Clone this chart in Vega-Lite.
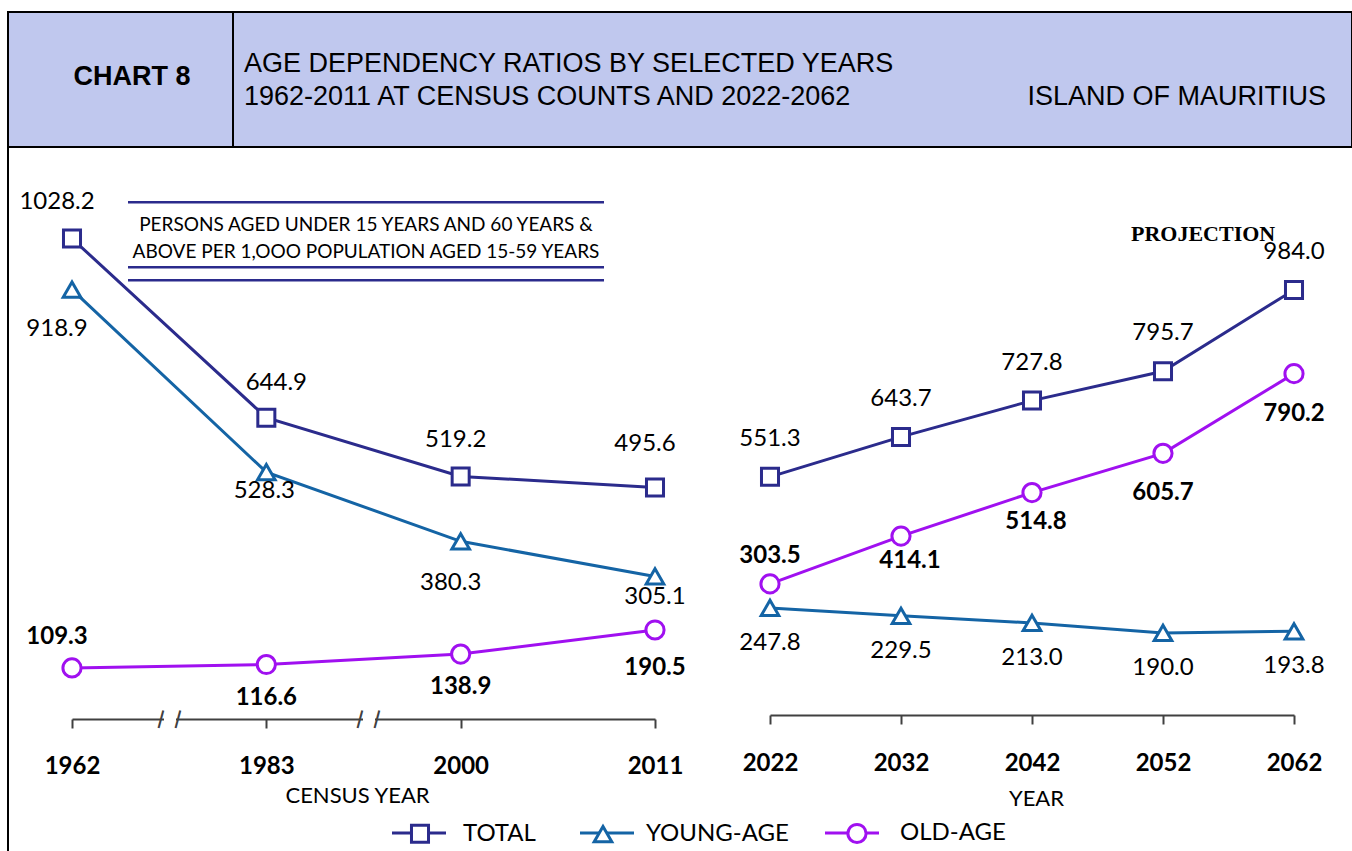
{
  "$schema": "https://vega.github.io/schema/vega-lite/v6.json",
  "width": 1352,
  "height": 851,
  "autosize": "none",
  "padding": 0,
  "background": "white",
  "config": {"view": {"stroke": null}},
  "datasets": {
    "census": [
      {"year": "1962", "series": "TOTAL", "value": 1028.2},
      {"year": "1983", "series": "TOTAL", "value": 644.9},
      {"year": "2000", "series": "TOTAL", "value": 519.2},
      {"year": "2011", "series": "TOTAL", "value": 495.6},
      {"year": "1962", "series": "YOUNG-AGE", "value": 918.9},
      {"year": "1983", "series": "YOUNG-AGE", "value": 528.3},
      {"year": "2000", "series": "YOUNG-AGE", "value": 380.3},
      {"year": "2011", "series": "YOUNG-AGE", "value": 305.1},
      {"year": "1962", "series": "OLD-AGE", "value": 109.3},
      {"year": "1983", "series": "OLD-AGE", "value": 116.6},
      {"year": "2000", "series": "OLD-AGE", "value": 138.9},
      {"year": "2011", "series": "OLD-AGE", "value": 190.5}
    ],
    "proj": [
      {"year": "2022", "series": "TOTAL", "value": 551.3},
      {"year": "2032", "series": "TOTAL", "value": 643.7},
      {"year": "2042", "series": "TOTAL", "value": 727.8},
      {"year": "2052", "series": "TOTAL", "value": 795.7},
      {"year": "2062", "series": "TOTAL", "value": 984.0},
      {"year": "2022", "series": "YOUNG-AGE", "value": 247.8},
      {"year": "2032", "series": "YOUNG-AGE", "value": 229.5},
      {"year": "2042", "series": "YOUNG-AGE", "value": 213.0},
      {"year": "2052", "series": "YOUNG-AGE", "value": 190.0},
      {"year": "2062", "series": "YOUNG-AGE", "value": 193.8},
      {"year": "2022", "series": "OLD-AGE", "value": 303.5},
      {"year": "2032", "series": "OLD-AGE", "value": 414.1},
      {"year": "2042", "series": "OLD-AGE", "value": 514.8},
      {"year": "2052", "series": "OLD-AGE", "value": 605.7},
      {"year": "2062", "series": "OLD-AGE", "value": 790.2}
    ]
  },
  "resolve": {"scale": {"x": "independent", "y": "independent"}, "axis": {"x": "independent", "y": "independent"}},
  "layer": [
    {
      "data": {"values": [{}]},
      "layer": [
        {"mark": {"type": "rect", "x": 8, "y": 12, "x2": 1352, "y2": 147, "fill": "#C0C8EE", "stroke": "black", "strokeWidth": 2}},
        {"mark": {"type": "rect", "x": 232, "y": 12, "x2": 234, "y2": 147, "fill": "black"}},
        {"mark": {"type": "rect", "x": 7, "y": 147, "x2": 9, "y2": 851, "fill": "black"}},
        {"mark": {"type": "text", "x": 132, "y": 85, "text": "CHART 8", "align": "center", "baseline": "alphabetic", "font": "Liberation Sans", "fontSize": 27, "fontWeight": "bold", "fill": "black"}},
        {"mark": {"type": "text", "x": 244, "y": 72, "text": "AGE DEPENDENCY RATIOS BY SELECTED YEARS", "align": "left", "baseline": "alphabetic", "font": "Liberation Sans", "fontSize": 27, "fill": "black"}},
        {"mark": {"type": "text", "x": 244, "y": 105, "text": "1962-2011 AT CENSUS COUNTS AND 2022-2062", "align": "left", "baseline": "alphabetic", "font": "Liberation Sans", "fontSize": 27, "fill": "black"}},
        {"mark": {"type": "text", "x": 1326, "y": 105, "text": "ISLAND OF MAURITIUS", "align": "right", "baseline": "alphabetic", "font": "Liberation Sans", "fontSize": 27, "fill": "black"}},
        {"mark": {"type": "rect", "x": 128, "y": 201, "x2": 604, "y2": 203.5, "fill": "#2B2B8C"}},
        {"mark": {"type": "rect", "x": 128, "y": 266, "x2": 604, "y2": 268.5, "fill": "#2B2B8C"}},
        {"mark": {"type": "rect", "x": 128, "y": 279, "x2": 604, "y2": 281.5, "fill": "#2B2B8C"}},
        {"mark": {"type": "text", "x": 366, "y": 231, "text": "PERSONS AGED UNDER 15 YEARS AND 60 YEARS &", "align": "center", "baseline": "alphabetic", "font": "Lato", "fontSize": 19, "fill": "black"}},
        {"mark": {"type": "text", "x": 366, "y": 258, "text": "ABOVE PER 1,OOO POPULATION AGED 15-59 YEARS", "align": "center", "baseline": "alphabetic", "font": "Lato", "fontSize": 19, "fill": "black"}},
        {"mark": {"type": "text", "x": 1131, "y": 241, "text": "PROJECTION", "align": "left", "baseline": "alphabetic", "font": "Liberation Serif", "fontSize": 22, "fontWeight": "bold", "fill": "black"}},
        {"mark": {"type": "rect", "x": 164, "y": 716, "x2": 176, "y2": 722, "fill": "white"}},
        {"mark": {"type": "rect", "x": 363, "y": 716, "x2": 375, "y2": 722, "fill": "white"}},
        {"mark": {"type": "text", "x": 161, "y": 719, "text": "|", "angle": 15, "align": "center", "baseline": "middle", "font": "DejaVu Sans", "fontSize": 18, "fontWeight": "bold", "fill": "#404040"}},
        {"mark": {"type": "text", "x": 178, "y": 719, "text": "|", "angle": 15, "align": "center", "baseline": "middle", "font": "DejaVu Sans", "fontSize": 18, "fontWeight": "bold", "fill": "#404040"}},
        {"mark": {"type": "text", "x": 360, "y": 719, "text": "|", "angle": 15, "align": "center", "baseline": "middle", "font": "DejaVu Sans", "fontSize": 18, "fontWeight": "bold", "fill": "#404040"}},
        {"mark": {"type": "text", "x": 377, "y": 719, "text": "|", "angle": 15, "align": "center", "baseline": "middle", "font": "DejaVu Sans", "fontSize": 18, "fontWeight": "bold", "fill": "#404040"}},
        {"mark": {"type": "rect", "x": 392, "y": 831.5, "x2": 446, "y2": 834.5, "fill": "#2B2B8C"}},
        {"mark": {"type": "rect", "x": 580, "y": 831.5, "x2": 634, "y2": 834.5, "fill": "#1464A5"}},
        {"mark": {"type": "rect", "x": 825, "y": 831.5, "x2": 879, "y2": 834.5, "fill": "#A010F0"}}
      ]
    },
    {
      "data": {"name": "census"},
      "encoding": {
        "x": {"field": "year", "type": "ordinal", "scale": {"type": "point", "range": [72, 655], "padding": 0},
          "axis": {"title": "CENSUS YEAR", "orient": "bottom", "offset": -132, "grid": false, "domainColor": "#404040", "domainWidth": 2, "tickColor": "#404040", "tickWidth": 2, "tickSize": 9, "labelFont": "Lato", "labelFontSize": 24, "labelFontWeight": "bold", "labelColor": "black", "labelPadding": 26, "labelAngle": 0, "titleFont": "Lato", "titleFontSize": 22, "titleFontWeight": "normal", "titleColor": "black", "titleX": 357, "titleY": 83, "titleBaseline": "alphabetic", "titleAlign": "center"}},
        "y": {"field": "value", "type": "quantitative", "scale": {"domain": [0, 1100], "range": [719, 205]}, "axis": null}
      },
      "layer": [
        {"mark": {"type": "line", "strokeWidth": 3},
          "encoding": {"color": {"field": "series", "type": "nominal", "scale": {"domain": ["TOTAL", "YOUNG-AGE", "OLD-AGE"], "range": ["#2B2B8C", "#1464A5", "#A010F0"]},
            "legend": {"orient": "none", "legendX": 408, "legendY": 821, "direction": "horizontal", "title": null, "padding": 0, "symbolStrokeWidth": 3, "symbolFillColor": "white", "labelFont": "Lato", "labelFontSize": 24, "labelColor": "black", "labelOffset": 31, "columnPadding": 52, "labelLimit": 400}}}},
        {"mark": {"type": "point", "filled": false, "fill": "white", "strokeWidth": 3, "opacity": 1},
          "encoding": {"color": {"field": "series", "type": "nominal"},
            "shape": {"field": "series", "type": "nominal", "scale": {"domain": ["TOTAL", "YOUNG-AGE", "OLD-AGE"], "range": ["square", "triangle-up", "circle"]}, "legend": null},
            "size": {"field": "series", "type": "nominal", "scale": {"domain": ["TOTAL", "YOUNG-AGE", "OLD-AGE"], "range": [290, 330, 300]}, "legend": null}}},
        {"transform": [{"filter": "datum.series === 'TOTAL' && datum.year === '1962'"}], "mark": {"type": "text", "dx": -15, "dy": -37, "font": "Lato", "fontSize": 24, "fill": "black", "baseline": "middle"}, "encoding": {"text": {"field": "value", "type": "quantitative", "format": ".1f"}}},
        {"transform": [{"filter": "datum.series === 'TOTAL' && datum.year === '1983'"}], "mark": {"type": "text", "dx": 10, "dy": -35, "font": "Lato", "fontSize": 24, "fill": "black", "baseline": "middle"}, "encoding": {"text": {"field": "value", "type": "quantitative", "format": ".1f"}}},
        {"transform": [{"filter": "datum.series === 'TOTAL' && datum.year === '2000'"}], "mark": {"type": "text", "dx": -5, "dy": -36, "font": "Lato", "fontSize": 24, "fill": "black", "baseline": "middle"}, "encoding": {"text": {"field": "value", "type": "quantitative", "format": ".1f"}}},
        {"transform": [{"filter": "datum.series === 'TOTAL' && datum.year === '2011'"}], "mark": {"type": "text", "dx": -10, "dy": -43, "font": "Lato", "fontSize": 24, "fill": "black", "baseline": "middle"}, "encoding": {"text": {"field": "value", "type": "quantitative", "format": ".1f"}}},
        {"transform": [{"filter": "datum.series === 'YOUNG-AGE' && datum.year === '1962'"}], "mark": {"type": "text", "dx": -15, "dy": 39, "font": "Lato", "fontSize": 24, "fill": "black", "baseline": "middle"}, "encoding": {"text": {"field": "value", "type": "quantitative", "format": ".1f"}}},
        {"transform": [{"filter": "datum.series === 'YOUNG-AGE' && datum.year === '1983'"}], "mark": {"type": "text", "dx": -2, "dy": 19, "font": "Lato", "fontSize": 24, "fill": "black", "baseline": "middle"}, "encoding": {"text": {"field": "value", "type": "quantitative", "format": ".1f"}}},
        {"transform": [{"filter": "datum.series === 'YOUNG-AGE' && datum.year === '2011'"}], "mark": {"type": "text", "dy": 21, "font": "Lato", "fontSize": 24, "fill": "black", "baseline": "middle"}, "encoding": {"text": {"field": "value", "type": "quantitative", "format": ".1f"}}},
        {"transform": [{"filter": "datum.series === 'YOUNG-AGE' && datum.year === '2000'"}], "mark": {"type": "text", "dx": -10, "dy": 42, "font": "Lato", "fontSize": 24, "fill": "black", "baseline": "middle"}, "encoding": {"text": {"field": "value", "type": "quantitative", "format": ".1f"}}},
        {"transform": [{"filter": "datum.series === 'OLD-AGE' && datum.year === '1962'"}], "mark": {"type": "text", "dx": -15, "dy": -31, "font": "Lato", "fontSize": 24, "fontWeight": "bold", "fill": "black", "baseline": "middle"}, "encoding": {"text": {"field": "value", "type": "quantitative", "format": ".1f"}}},
        {"transform": [{"filter": "datum.series === 'OLD-AGE' && (datum.year === '1983' || datum.year === '2000')"}], "mark": {"type": "text", "dy": 33, "font": "Lato", "fontSize": 24, "fontWeight": "bold", "fill": "black", "baseline": "middle"}, "encoding": {"text": {"field": "value", "type": "quantitative", "format": ".1f"}}},
        {"transform": [{"filter": "datum.series === 'OLD-AGE' && datum.year === '2011'"}], "mark": {"type": "text", "dy": 38, "font": "Lato", "fontSize": 24, "fontWeight": "bold", "fill": "black", "baseline": "middle"}, "encoding": {"text": {"field": "value", "type": "quantitative", "format": ".1f"}}}
      ]
    },
    {
      "data": {"name": "proj"},
      "encoding": {
        "x": {"field": "year", "type": "ordinal", "scale": {"type": "point", "range": [770, 1294], "padding": 0},
          "axis": {"title": "YEAR", "orient": "bottom", "offset": -136, "grid": false, "domainColor": "#404040", "domainWidth": 2, "tickColor": "#404040", "tickWidth": 2, "tickSize": 9, "labelFont": "Lato", "labelFontSize": 24, "labelFontWeight": "bold", "labelColor": "black", "labelPadding": 27, "labelAngle": 0, "titleFont": "Lato", "titleFontSize": 22, "titleFontWeight": "normal", "titleColor": "black", "titleX": 1036, "titleY": 90, "titleBaseline": "alphabetic", "titleAlign": "center"}},
        "y": {"field": "value", "type": "quantitative", "scale": {"domain": [0, 1200], "range": [715, 196.6]}, "axis": null}
      },
      "layer": [
        {"mark": {"type": "line", "strokeWidth": 3},
          "encoding": {"color": {"field": "series", "type": "nominal"}}},
        {"mark": {"type": "point", "filled": false, "fill": "white", "strokeWidth": 3, "opacity": 1},
          "encoding": {"color": {"field": "series", "type": "nominal"},
            "shape": {"field": "series", "type": "nominal", "legend": null},
            "size": {"field": "series", "type": "nominal", "legend": null}}},
        {"transform": [{"filter": "datum.series === 'TOTAL'"}], "mark": {"type": "text", "dy": -38, "font": "Lato", "fontSize": 24, "fill": "black", "baseline": "middle"}, "encoding": {"text": {"field": "value", "type": "quantitative", "format": ".1f"}}},
        {"transform": [{"filter": "datum.series === 'YOUNG-AGE'"}], "mark": {"type": "text", "dy": 35, "font": "Lato", "fontSize": 24, "fill": "black", "baseline": "middle"}, "encoding": {"text": {"field": "value", "type": "quantitative", "format": ".1f"}}},
        {"transform": [{"filter": "datum.series === 'OLD-AGE' && datum.year === '2022'"}], "mark": {"type": "text", "dy": -28, "font": "Lato", "fontSize": 24, "fontWeight": "bold", "fill": "black", "baseline": "middle"}, "encoding": {"text": {"field": "value", "type": "quantitative", "format": ".1f"}}},
        {"transform": [{"filter": "datum.series === 'OLD-AGE' && datum.year === '2032'"}], "mark": {"type": "text", "dx": 9, "dy": 25, "font": "Lato", "fontSize": 24, "fontWeight": "bold", "fill": "black", "baseline": "middle"}, "encoding": {"text": {"field": "value", "type": "quantitative", "format": ".1f"}}},
        {"transform": [{"filter": "datum.series === 'OLD-AGE' && datum.year === '2042'"}], "mark": {"type": "text", "dx": 4, "dy": 29, "font": "Lato", "fontSize": 24, "fontWeight": "bold", "fill": "black", "baseline": "middle"}, "encoding": {"text": {"field": "value", "type": "quantitative", "format": ".1f"}}},
        {"transform": [{"filter": "datum.series === 'OLD-AGE' && (datum.year === '2052' || datum.year === '2062')"}], "mark": {"type": "text", "dy": 40, "font": "Lato", "fontSize": 24, "fontWeight": "bold", "fill": "black", "baseline": "middle"}, "encoding": {"text": {"field": "value", "type": "quantitative", "format": ".1f"}}}
      ]
    }
  ]
}
